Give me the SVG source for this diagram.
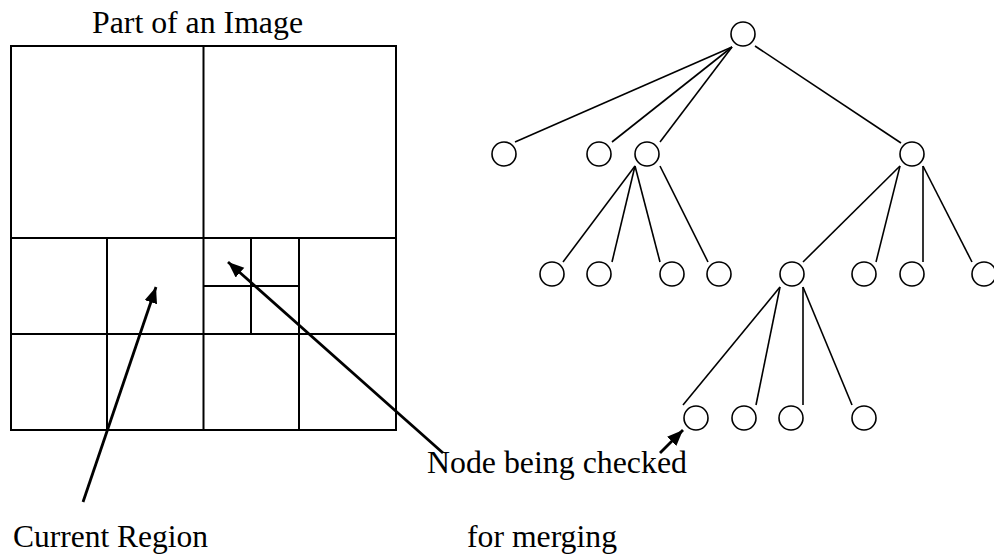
<svg xmlns="http://www.w3.org/2000/svg" width="994" height="554" viewBox="0 0 994 554">
  <style>
    .grid { fill: none; stroke: #000; stroke-width: 2; }
    .edge { stroke: #000; stroke-width: 1.6; fill: none; }
    .node { fill: #fff; stroke: #000; stroke-width: 1.6; }
    .arrow { stroke: #000; stroke-width: 2.8; fill: none; marker-end: url(#head); }
    text { font-family: 'Liberation Serif', Tinos, 'DejaVu Serif', serif; font-size: 31px; fill: #000; }
  </style>
  <defs>
    <marker id="head" markerUnits="userSpaceOnUse" markerWidth="18" markerHeight="14" refX="16" refY="6.5" orient="auto">
      <path d="M0,0 L16,6.5 L0,13 z" fill="#000"/>
    </marker>
  </defs>
  <rect width="994" height="554" fill="#fff"/>

  <!-- quadtree partition of the image region -->
  <g id="image-region">
    <text x="92" y="33" font-size="32" textLength="211" lengthAdjust="spacingAndGlyphs">Part of an Image</text>
    <rect class="grid" x="11" y="46" width="385" height="384"/>
    <line class="grid" x1="203.5" y1="46" x2="203.5" y2="430"/>
    <line class="grid" x1="11" y1="238" x2="396" y2="238"/>
    <line class="grid" x1="11" y1="334" x2="396" y2="334"/>
    <line class="grid" x1="107" y1="238" x2="107" y2="430"/>
    <line class="grid" x1="299" y1="238" x2="299" y2="430"/>
    <line class="grid" x1="251" y1="238" x2="251" y2="334"/>
    <line class="grid" x1="203.5" y1="286" x2="299" y2="286"/>
  </g>

  <!-- tree edges -->
  <g id="connectors">
    <line class="edge" x1="732" y1="47" x2="515" y2="142"/>
    <line class="edge" x1="732" y1="47" x2="612" y2="142"/>
    <line class="edge" x1="732" y1="47" x2="660" y2="142"/>
    <line class="edge" x1="755" y1="46" x2="901" y2="143"/>

    <line class="edge" x1="635" y1="166" x2="563" y2="262"/>
    <line class="edge" x1="635" y1="166" x2="612" y2="262"/>
    <line class="edge" x1="635" y1="166" x2="660" y2="262"/>
    <line class="edge" x1="660" y1="166" x2="708" y2="262"/>

    <line class="edge" x1="900" y1="166" x2="803" y2="262"/>
    <line class="edge" x1="900" y1="166" x2="876" y2="262"/>
    <line class="edge" x1="923" y1="166" x2="923" y2="262"/>
    <line class="edge" x1="923" y1="166" x2="972" y2="262"/>

    <line class="edge" x1="780" y1="287" x2="683" y2="405"/>
    <line class="edge" x1="780" y1="287" x2="756" y2="405"/>
    <line class="edge" x1="803" y1="287" x2="803" y2="405"/>
    <line class="edge" x1="803" y1="287" x2="852" y2="405"/>

    <!-- pointer arrows -->
    <line class="arrow" x1="83" y1="502" x2="156" y2="287"/>
    <line class="arrow" x1="443" y1="453" x2="228" y2="262"/>
    <line class="arrow" x1="660" y1="453" x2="683" y2="430"/>
  </g>

  <!-- tree nodes -->
  <g id="n-root"><circle class="node" cx="743" cy="34" r="12"/></g>
  <g id="n-1a"><circle class="node" cx="504" cy="154" r="12"/></g>
  <g id="n-1b"><circle class="node" cx="599" cy="154" r="12"/></g>
  <g id="n-1c"><circle class="node" cx="647" cy="154" r="12"/></g>
  <g id="n-1d"><circle class="node" cx="912" cy="154" r="12"/></g>
  <g id="n-2a"><circle class="node" cx="552" cy="274" r="12"/></g>
  <g id="n-2b"><circle class="node" cx="599" cy="274" r="12"/></g>
  <g id="n-2c"><circle class="node" cx="672" cy="274" r="12"/></g>
  <g id="n-2d"><circle class="node" cx="719" cy="274" r="12"/></g>
  <g id="n-2e"><circle class="node" cx="792" cy="274" r="12"/></g>
  <g id="n-2f"><circle class="node" cx="864" cy="274" r="12"/></g>
  <g id="n-2g"><circle class="node" cx="912" cy="274" r="12"/></g>
  <g id="n-2h"><circle class="node" cx="984" cy="274" r="12"/></g>
  <g id="n-3a"><circle class="node" cx="696" cy="418" r="12"/></g>
  <g id="n-3b"><circle class="node" cx="744" cy="418" r="12"/></g>
  <g id="n-3c"><circle class="node" cx="791" cy="418" r="12"/></g>
  <g id="n-3d"><circle class="node" cx="864" cy="418" r="12"/></g>

  <!-- captions -->
  <g id="captions">
    <text x="13" y="547" textLength="195" lengthAdjust="spacingAndGlyphs">Current  Region</text>
    <text x="427" y="473" textLength="260" lengthAdjust="spacingAndGlyphs">Node being checked</text>
    <text x="467" y="547" textLength="150" lengthAdjust="spacingAndGlyphs">for  merging</text>
  </g>
</svg>
